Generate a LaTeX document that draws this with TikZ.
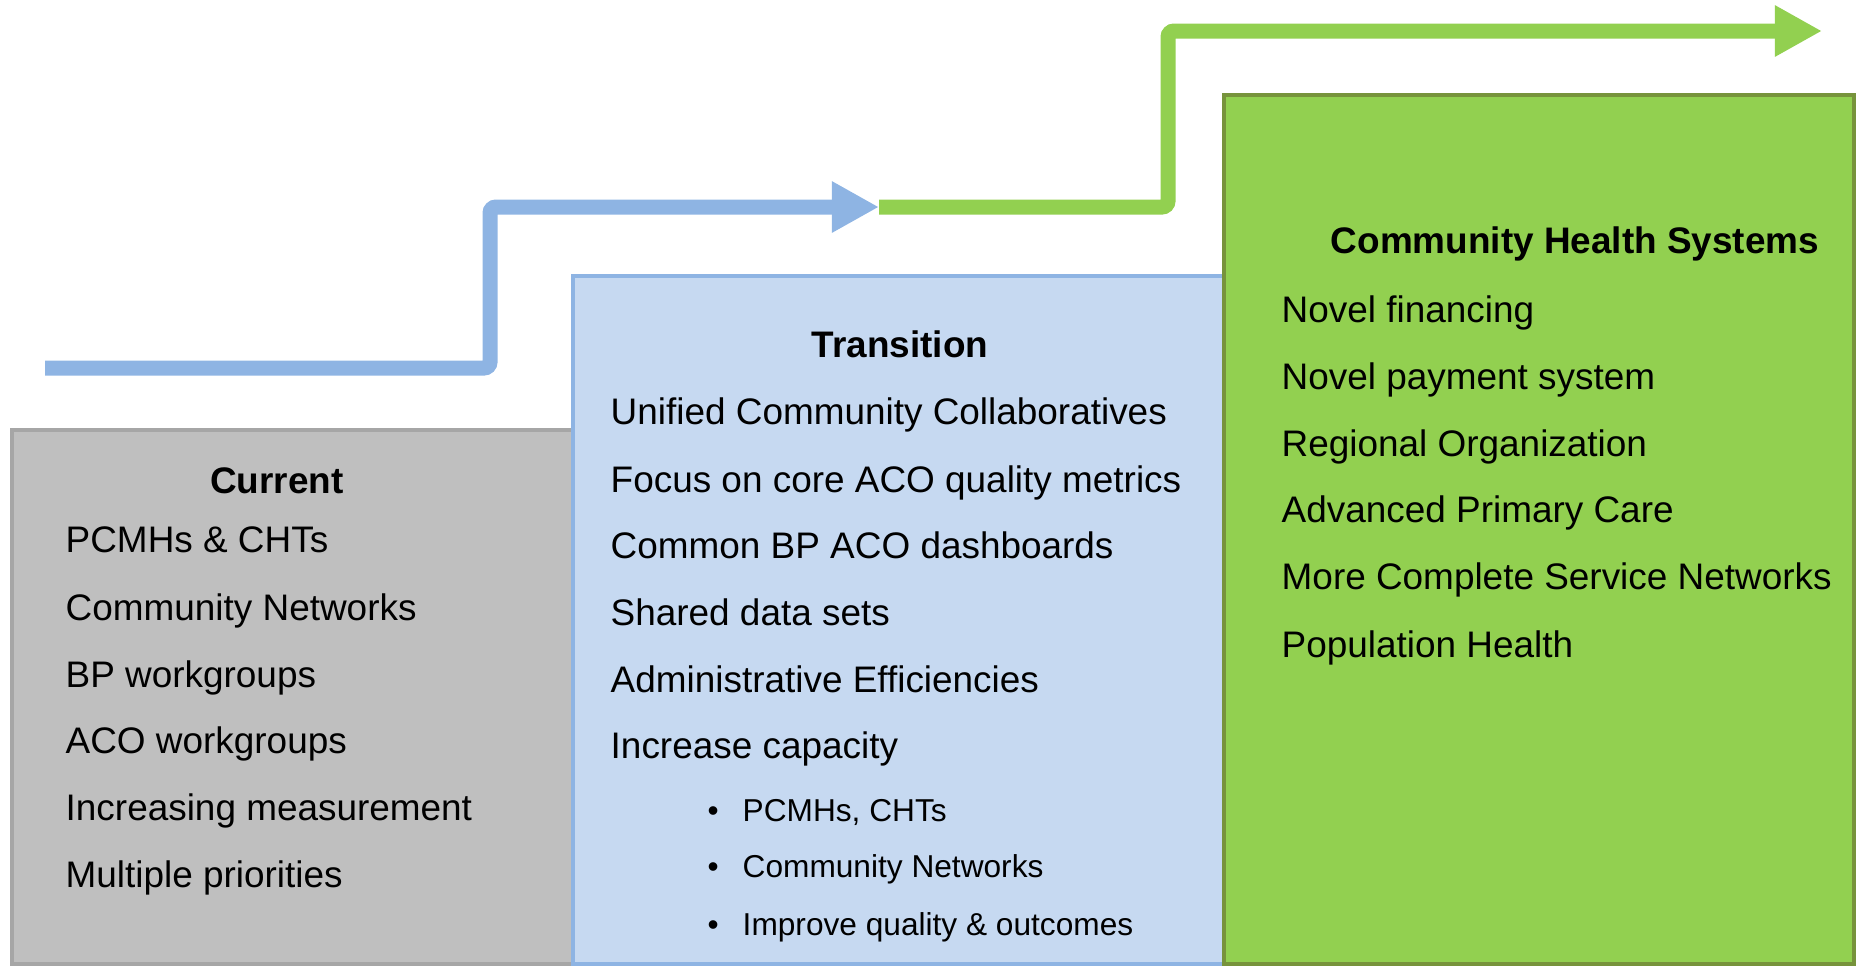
\documentclass[tikz,border=0pt]{standalone}
\usepackage{fontspec}
\setmainfont{Liberation Sans}
\usetikzlibrary{arrows.meta}

\definecolor{greyfill}{HTML}{BFBFBF}
\definecolor{greyline}{HTML}{A6A6A6}
\definecolor{bluefill}{HTML}{C6D9F1}
\definecolor{blueline}{HTML}{8EB4E3}
\definecolor{greenfill}{HTML}{92D050}
\definecolor{greenline}{HTML}{77933C}

\begin{document}
\begin{tikzpicture}[
    x=0.01cm, y=-0.01cm,
    stage/.style={line width=0.04cm},
    steparrow/.style={line width=0.15cm, rounded corners=0.06cm,
        -{Triangle[width=0.48cm,length=0.47cm]}},
    head/.style={anchor=base, inner sep=0, font=\fontsize{10.5}{12}\selectfont\bfseries},
    item/.style={anchor=base west, inner sep=0, font=\fontsize{10.5}{12}\selectfont},
    subitem/.style={anchor=base west, inner sep=0, font=\fontsize{9}{11}\selectfont}
]
\useasboundingbox (0,0) rectangle (1860,966);

% Stage boxes
\draw[stage, fill=greyfill, draw=greyline] (12,430) rectangle (575,964);
\draw[stage, fill=bluefill, draw=blueline] (573,276) rectangle (1225,964);
\draw[stage, fill=greenfill, draw=greenline] (1224,95) rectangle (1854,964);

% Step arrows
\coordinate (bluestart) at (45,368);
\coordinate (bluetip) at (879,207);
\coordinate (greentip) at (1822,31);

\draw[steparrow, blueline] (bluestart) -- (490,368) -- (490,207) -- (bluetip);
\draw[steparrow, greenfill] (bluetip) -- (1168,207) -- (1168,31) -- (greentip);

% Current
\node[head] (cur) at (277,493) {Current};
\node[item] (cur1) at (65,552) {PCMHs \& CHTs};
\node[item] (cur2) at (65,620) {Community Networks};
\node[item] (cur3) at (65,687) {BP workgroups};
\node[item] (cur4) at (65,753) {ACO workgroups};
\node[item] (cur5) at (65,820) {Increasing measurement};
\node[item] (cur6) at (65,887) {Multiple priorities};

% Transition
\node[head] (tra) at (900,357) {Transition};
\node[item] (tra1) at (610,424) {Unified Community Collaboratives};
\node[item] (tra2) at (610,492) {Focus on core ACO quality metrics};
\node[item] (tra3) at (610,558) {Common BP ACO dashboards};
\node[item] (tra4) at (610,625) {Shared data sets};
\node[item] (tra5) at (610,692) {Administrative Efficiencies};
\node[item] (tra6) at (610,758) {Increase capacity};
\node[subitem] (sub1) at (707,821) {\makebox[0.35cm][l]{\textbullet}PCMHs, CHTs};
\node[subitem] (sub2) at (707,877) {\makebox[0.35cm][l]{\textbullet}Community Networks};
\node[subitem] (sub3) at (707,935) {\makebox[0.35cm][l]{\textbullet}Improve quality \& outcomes};

% Community Health Systems
\node[head] (chs) at (1575,253) {Community Health Systems};
\node[item] (chs1) at (1281,322) {Novel financing};
\node[item] (chs2) at (1281,389) {Novel payment system};
\node[item] (chs3) at (1281,456) {Regional Organization};
\node[item] (chs4) at (1281,522) {Advanced Primary Care};
\node[item] (chs5) at (1281,589) {More Complete Service Networks};
\node[item] (chs6) at (1281,657) {Population Health};

\end{tikzpicture}
\end{document}
